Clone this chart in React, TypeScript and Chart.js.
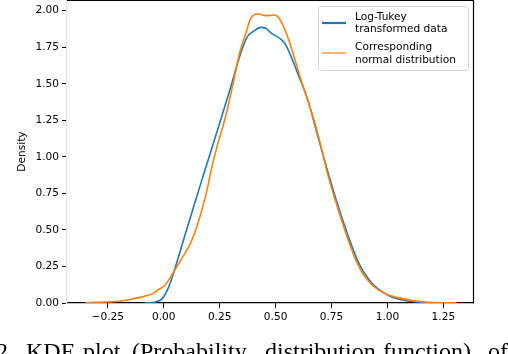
import React, { useEffect, useRef } from "react";
import { Chart, registerables } from "chart.js";

Chart.register(...registerables);

const seriesLabels = ["Log-Tukey\ntransformed data", "Corresponding\nnormal distribution"];
const seriesColors = ["#1f77b4", "#ff7f0e"];

const tukeyX = [-0.085, -0.06, -0.037, -0.007, 0.0225, 0.0525, 0.09, 0.135, 0.165, 0.21, 0.254, 0.299, 0.344, 0.374, 0.404, 0.434, 0.456, 0.479, 0.524, 0.546, 0.599, 0.644, 0.689, 0.733, 0.778, 0.823, 0.868, 0.928, 1.0, 1.05, 1.1, 1.15, 1.2];
const tukeyY = [0, 0.002, 0.007, 0.03, 0.11, 0.247, 0.44, 0.665, 0.815, 1.035, 1.25, 1.475, 1.708, 1.822, 1.862, 1.886, 1.88, 1.848, 1.804, 1.765, 1.571, 1.388, 1.14, 0.9, 0.67, 0.465, 0.285, 0.14, 0.055, 0.025, 0.012, 0.004, 0.001];

const normalX = [-0.35, -0.3, -0.254, -0.2, -0.135, -0.09, -0.046, -0.03, 0.0076, 0.045, 0.075, 0.12, 0.15, 0.19, 0.215, 0.24, 0.272, 0.307, 0.337, 0.367, 0.389, 0.419, 0.456, 0.494, 0.516, 0.554, 0.614, 0.658, 0.696, 0.733, 0.778, 0.823, 0.868, 0.928, 1.0, 1.05, 1.1, 1.167, 1.24, 1.31];
const normalY = [0.002, 0.004, 0.007, 0.012, 0.03, 0.045, 0.066, 0.085, 0.125, 0.215, 0.29, 0.41, 0.53, 0.75, 0.93, 1.08, 1.25, 1.479, 1.697, 1.845, 1.948, 1.977, 1.966, 1.97, 1.948, 1.822, 1.525, 1.32, 1.114, 0.88, 0.648, 0.44, 0.262, 0.128, 0.058, 0.035, 0.02, 0.007, 0.002, 0];

const xTicks = [-0.25, 0, 0.25, 0.5, 0.75, 1.0, 1.25];
const yTicks = [0, 0.25, 0.5, 0.75, 1.0, 1.25, 1.5, 1.75, 2.0];
const yAxisTitle = "Density";
const captionWords = ["2.", "KDE", "plot", "(Probability", "distribution", "function)", "of"];

const FONT = '"DejaVu Sans", sans-serif';

const fmt = (v: number) => (v < 0 ? "\u2212" + Math.abs(v).toFixed(2) : v.toFixed(2));

const framePlugin = {
  id: "frame",
  afterDraw(chart: any) {
    const { ctx, chartArea } = chart;
    ctx.save();
    ctx.strokeStyle = "#000";
    ctx.lineWidth = 1.2;
    ctx.beginPath();
    ctx.moveTo(chartArea.left, chartArea.top + 0.5);
    ctx.lineTo(chartArea.right + 0.5, chartArea.top + 0.5);
    ctx.lineTo(chartArea.right + 0.5, chartArea.bottom + 0.5);
    ctx.stroke();
    ctx.restore();
  },
};

const legendPlugin = {
  id: "boxLegend",
  afterDraw(chart: any) {
    const ctx = chart.ctx;
    ctx.save();
    const bx = 318.5, by = 6.5, bw = 150, bh = 64;
    ctx.beginPath();
    if ((ctx as any).roundRect) (ctx as any).roundRect(bx, by, bw, bh, 3);
    else ctx.rect(bx, by, bw, bh);
    ctx.fillStyle = "rgba(255,255,255,0.85)";
    ctx.fill();
    ctx.strokeStyle = "#d4d4d4";
    ctx.lineWidth = 1;
    ctx.stroke();
    const lineYs = [23, 53];
    const lineWs = [2.2, 1.2];
    const textBaselines = [[19.5, 32.3], [50, 62.7]];
    ctx.font = "10.6px " + FONT;
    ctx.textBaseline = "alphabetic";
    ctx.textAlign = "left";
    chart.data.datasets.forEach((ds: any, i: number) => {
      ctx.strokeStyle = ds.borderColor;
      ctx.lineWidth = lineWs[i];
      ctx.beginPath();
      ctx.moveTo(322, lineYs[i]);
      ctx.lineTo(346, lineYs[i]);
      ctx.stroke();
      ctx.fillStyle = "#000";
      String(ds.label).split("\n").forEach((line: string, j: number) => {
        ctx.fillText(line, 355, textBaselines[i][j]);
      });
    });
    ctx.restore();
  },
};

export default function App() {
  const ref = useRef<HTMLCanvasElement | null>(null);

  useEffect(() => {
    if (!ref.current) return;
    const chart = new Chart(ref.current, {
      type: "line",
      data: {
        datasets: [
          {
            label: seriesLabels[0],
            data: tukeyX.map((x, i) => ({ x, y: tukeyY[i] })),
            borderColor: seriesColors[0],
            borderWidth: 1.6,
            pointRadius: 0,
            cubicInterpolationMode: "monotone",
            fill: false,
            order: 1,
          },
          {
            label: seriesLabels[1],
            data: normalX.map((x, i) => ({ x, y: normalY[i] })),
            borderColor: seriesColors[1],
            borderWidth: 1.6,
            pointRadius: 0,
            cubicInterpolationMode: "monotone",
            fill: false,
            order: 0,
          },
        ],
      },
      options: {
        animation: false,
        responsive: false,
        devicePixelRatio: 1,
        layout: { padding: { left: 0, right: 35, top: 0, bottom: 0 } },
        plugins: { legend: { display: false }, tooltip: { enabled: false } },
        scales: {
          x: {
            type: "linear",
            min: -0.4325,
            max: 1.3825,
            afterFit: (s: any) => { s.height = 51; s.paddingLeft = 0; s.paddingRight = 0; },
            afterBuildTicks: (s: any) => { s.ticks = xTicks.map((v) => ({ value: v })); },
            grid: { drawOnChartArea: false, drawTicks: true, tickLength: 5, tickColor: "#000", tickWidth: 1 },
            border: { display: true, color: "#000", width: 1.2 },
            ticks: {
              color: "#000",
              font: { family: FONT, size: 10.6 },
              padding: 3,
              maxRotation: 0,
              callback: (v: any) => fmt(Number(v)),
            },
          },
          y: {
            type: "linear",
            min: 0,
            max: 2.073,
            afterFit: (s: any) => { s.width = 67; s.paddingTop = 0; s.paddingBottom = 0; },
            afterBuildTicks: (s: any) => { s.ticks = yTicks.map((v) => ({ value: v })); },
            grid: { drawOnChartArea: false, drawTicks: true, tickLength: 5, tickColor: "#000", tickWidth: 1 },
            border: { display: true, color: "#e2e2e2", width: 1.2 },
            title: {
              display: true,
              text: yAxisTitle,
              color: "#000",
              font: { family: FONT, size: 10.6 },
              padding: { top: 16, bottom: 0 },
            },
            ticks: {
              color: "#000",
              font: { family: FONT, size: 10.6 },
              padding: 3,
              callback: (v: any) => fmt(Number(v)),
            },
          },
        },
      },
      plugins: [framePlugin, legendPlugin],
    } as any);
    return () => chart.destroy();
  }, []);

  const wordLeft = [-4, 26, 83, 132, 265, 383, 488];

  return (
    <div style={{ position: "fixed", left: 0, top: 0, width: 508, height: 354, overflow: "hidden", background: "#fff" }}>
      <canvas ref={ref} width={508} height={354} style={{ position: "absolute", left: 0, top: 0, width: 508, height: 354 }} />
      {captionWords.map((w, i) => (
        <span
          key={i}
          style={{
            position: "absolute",
            left: wordLeft[i],
            top: 338.8,
            fontFamily: '"Liberation Serif", "Times New Roman", serif',
            fontSize: 24,
            lineHeight: "24px",
            color: "#000",
            whiteSpace: "nowrap",
          }}
        >
          {w}
        </span>
      ))}
    </div>
  );
}
